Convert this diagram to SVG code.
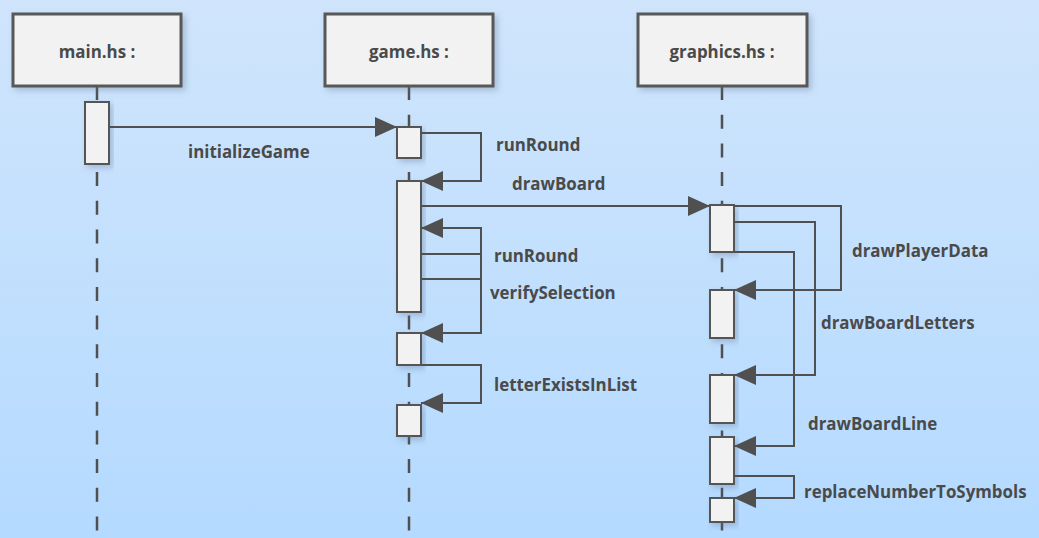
<svg xmlns="http://www.w3.org/2000/svg" width="1039" height="538" viewBox="0 0 1039 538">
<defs>
<linearGradient id="bg" x1="0" y1="0" x2="0" y2="1">
<stop offset="0" stop-color="#d0e5fc"/>
<stop offset="1" stop-color="#b4daff"/>
</linearGradient>
<filter id="sh" x="-10%" y="-10%" width="130%" height="140%">
<feDropShadow dx="3" dy="3" stdDeviation="3" flood-color="#5a7090" flood-opacity="0.35"/>
</filter>
<marker id="ah" markerUnits="userSpaceOnUse" markerWidth="22" markerHeight="20" refX="22" refY="10" orient="auto">
<path d="M0,0 L22,10 L0,20 z" fill="#505050"/>
</marker>
<style>
.box{fill:#f2f2f2;stroke:#595959;stroke-width:3}
.act{fill:#f2f2f2;stroke:#555555;stroke-width:2}
.life{stroke:#505050;stroke-width:2.5;stroke-dasharray:14 14.7;fill:none}
.msg{fill:none;stroke:#505050;stroke-width:2;marker-end:url(#ah)}
.t{font-family:"Open Sans","Noto Sans","DejaVu Sans",sans-serif;font-weight:700;fill:#4a4a4a;font-size:16.9px}
.tc{text-anchor:middle}
</style>
</defs>
<rect width="1039" height="538" fill="url(#bg)"/>
<g id="lifelines">
<line class="life" x1="97" y1="86" x2="97" y2="538"/>
<line class="life" x1="409" y1="86" x2="409" y2="538"/>
<line class="life" x1="722" y1="86" x2="722" y2="538"/>
</g>
<g id="main">
<rect class="box" x="13" y="14" width="168" height="72" filter="url(#sh)"/>
<text class="t tc" x="97" y="58">main.hs :</text>
<rect class="act" x="85" y="102" width="24" height="62" filter="url(#sh)"/>
</g>
<g id="game">
<rect class="box" x="325" y="14" width="168" height="72" filter="url(#sh)"/>
<text class="t tc" x="409" y="58">game.hs :</text>
<rect class="act" x="397" y="127" width="24" height="31" filter="url(#sh)"/>
<rect class="act" x="397" y="181" width="24" height="131" filter="url(#sh)"/>
<rect class="act" x="397" y="333" width="24" height="32" filter="url(#sh)"/>
<rect class="act" x="397" y="405" width="24" height="31" filter="url(#sh)"/>
</g>
<g id="graphics">
<rect class="box" x="638" y="14" width="169" height="72" filter="url(#sh)"/>
<text class="t tc" x="722" y="58">graphics.hs :</text>
<rect class="act" x="710" y="205" width="24" height="47" filter="url(#sh)"/>
<rect class="act" x="710" y="290" width="24" height="48" filter="url(#sh)"/>
<rect class="act" x="710" y="375" width="24" height="48" filter="url(#sh)"/>
<rect class="act" x="710" y="437" width="24" height="47" filter="url(#sh)"/>
<rect class="act" x="710" y="498" width="24" height="24" filter="url(#sh)"/>
</g>
<g id="connectors">
<path class="msg" d="M109,127 H397"/>
<path class="msg" d="M421,133 H481 V181 H421"/>
<path class="msg" d="M421,206 H710"/>
<path class="msg" d="M421,279 H481 V228 H421"/>
<path class="msg" d="M421,254 H481 V333 H421"/>
<path class="msg" d="M421,365 H481 V403 H421"/>
<path class="msg" d="M734,206 H841 V290 H734"/>
<path class="msg" d="M734,222 H815 V375 H734"/>
<path class="msg" d="M734,252 H794 V446 H734"/>
<path class="msg" d="M734,476 H794 V498 H734"/>
</g>
<g id="labels">
<text class="t" x="188" y="158">initializeGame</text>
<text class="t" x="496" y="151">runRound</text>
<text class="t" x="512" y="190">drawBoard</text>
<text class="t" x="494" y="262">runRound</text>
<text class="t" x="490" y="299">verifySelection</text>
<text class="t" x="494" y="391">letterExistsInList</text>
<text class="t" x="852" y="257">drawPlayerData</text>
<text class="t" x="821" y="329">drawBoardLetters</text>
<text class="t" x="808" y="430">drawBoardLine</text>
<text class="t" x="804" y="498">replaceNumberToSymbols</text>
</g>
</svg>
